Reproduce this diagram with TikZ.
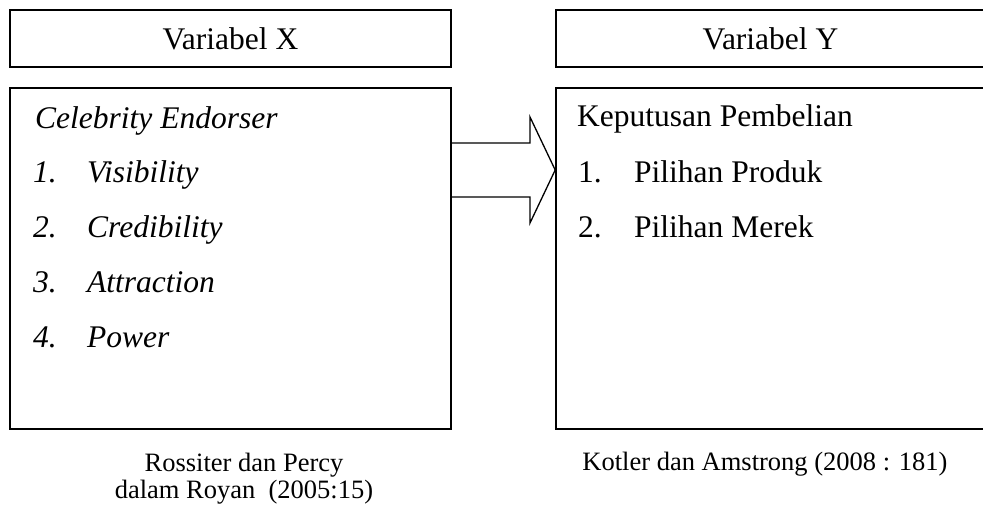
\documentclass[tikz,border=0pt]{standalone}
\usepackage{fontspec}
\setmainfont{Liberation Serif}
\usetikzlibrary{positioning,calc}

\tikzset{
  hdrbox/.style={draw,line width=1.6pt,minimum height=57pt,inner sep=0pt,
    font=\fontsize{31.5}{36}\selectfont},
  varbox/.style={draw,line width=1.6pt,minimum height=341pt,inner sep=0pt},
  itemtext/.style={anchor=base west,inner sep=0pt,font=\fontsize{31.5}{36}\selectfont},
  srctext/.style={anchor=base,inner sep=0pt,font=\fontsize{26.5}{27}\selectfont}
}

\begin{document}
\begin{tikzpicture}[x=1pt,y=-1pt]
\useasboundingbox (0,0) rectangle (983,506);

% headers
\node[hdrbox,minimum width=441pt] (hdrx) at (230.5,38.5) {Variabel X};
\node[hdrbox,minimum width=429pt] (hdry) at (770.5,38.5) {Variabel Y};

% variable boxes
\node[varbox,minimum width=441pt] (xbox) at (230.5,258.5) {};
\node[varbox,minimum width=429pt] (ybox) at (770.5,258.5) {};

% left box contents
\node[itemtext] (xtitle) at (35,128) {\itshape Celebrity Endorser};
\foreach \n/\t/\y in {1/Visibility/182, 2/Credibility/237, 3/Attraction/292, 4/Power/347} {
    \node[itemtext] (xnum\n) at (33,\y) {\itshape \n.};
    \node[itemtext] (xitem\n) at (87,\y) {\itshape \t};
}

% right box contents
\node[itemtext] (ytitle) at (577,126) {Keputusan Pembelian};
\foreach \n/\t/\y in {1/Pilihan Produk/182, 2/Pilihan Merek/237} {
    \node[itemtext] (ynum\n) at (578,\y) {\n.};
    \node[itemtext] (yitem\n) at (634,\y) {\t};
}

% arrow between the boxes
\coordinate (tip) at (ybox.west |- 0,170);
\draw[line width=1.3pt,line join=miter]
    (xbox.east |- 0,143) -- (530,143) -- (530,117) -- (tip)
    -- (530,223) -- (530,197) -- (xbox.east |- 0,197);

% sources
\node[srctext] (srcx1) at (244,471) {Rossiter dan Percy};
\node[srctext] (srcx2) at (244,498) {dalam Royan\ \ (2005:15)};
\node[srctext] (srcy) at (765,470) {Kotler dan Amstrong (2008 : 181)};
\end{tikzpicture}
\end{document}
